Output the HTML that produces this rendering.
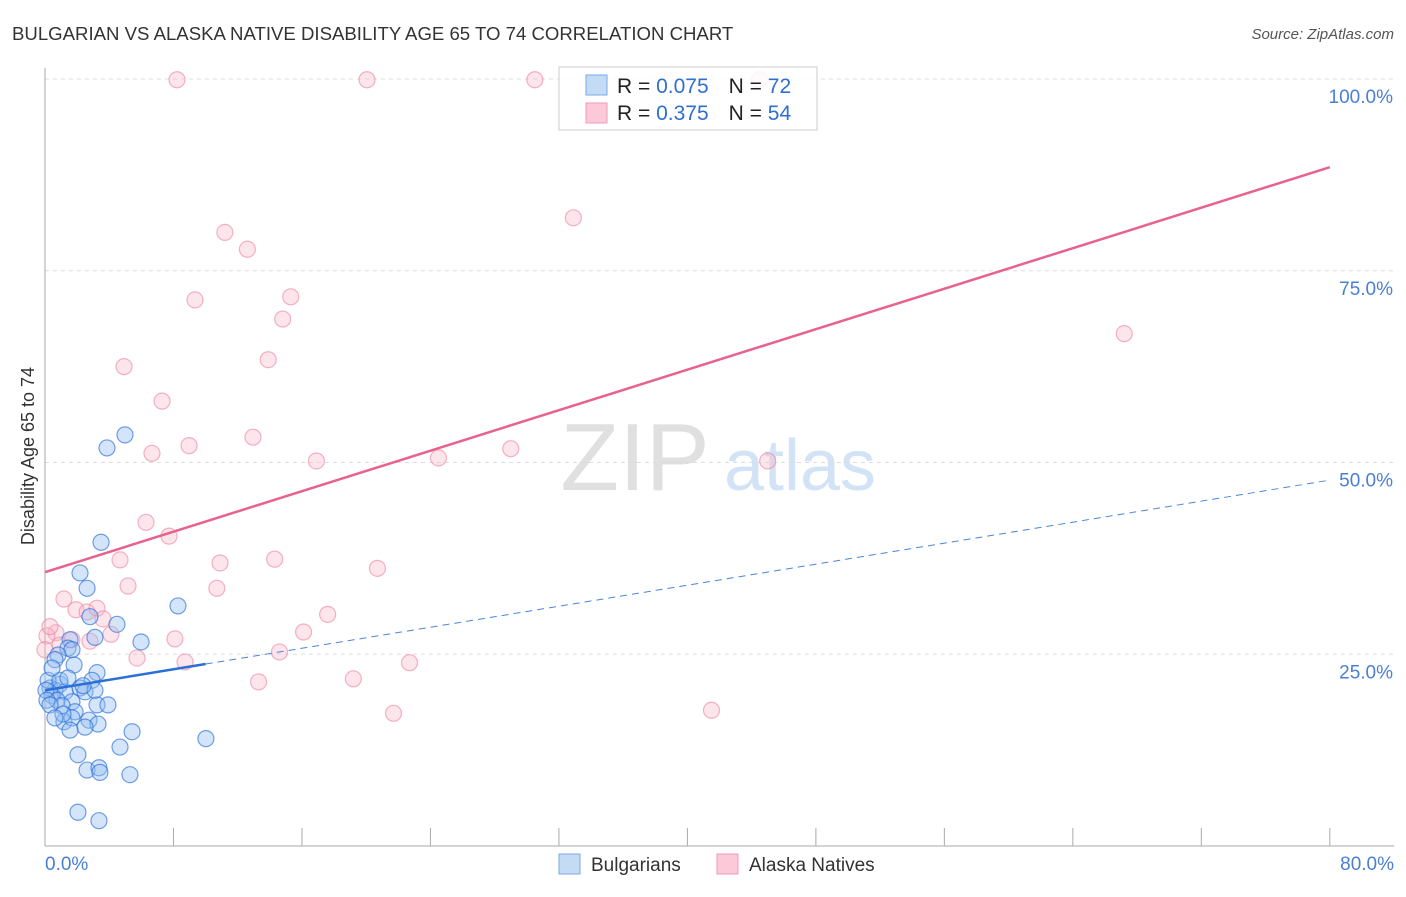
<!DOCTYPE html>
<html><head><meta charset="utf-8"><style>
body{margin:0;background:#fff;font-family:"Liberation Sans",sans-serif;}
svg text{font-family:"Liberation Sans",sans-serif;}
</style></head><body>
<svg id="c" width="1406" height="892">
<text x="12" y="40" font-size="18.6" fill="#333">BULGARIAN VS ALASKA NATIVE DISABILITY AGE 65 TO 74 CORRELATION CHART</text>
<text x="1394" y="39" font-size="15" fill="#555" font-style="italic" text-anchor="end">Source: ZipAtlas.com</text>
<text x="34" y="456" font-size="18" fill="#333" text-anchor="middle" transform="rotate(-90 34 456)">Disability Age 65 to 74</text>
<g><text x="635" y="490" font-size="96" fill="#e0e0e0" font-family="Liberation Serif" text-anchor="middle">ZIP</text><text x="800" y="490" font-size="72" fill="#d3e3f6" text-anchor="middle">atlas</text></g>
<g id="grid"></g><g id="axes"></g><g id="pts"></g><g id="lines"></g>
<g>
<rect x="559" y="67" width="258" height="63" fill="rgba(255,255,255,0.85)" stroke="#ccc"/>
<rect x="586" y="75" width="21" height="20" fill="#c4dbf6" stroke="#7aaae8"/>
<rect x="586" y="103" width="21" height="20" fill="#fbc9d7" stroke="#f09ab4"/>
<text x="617" y="93" font-size="21" fill="#222">R = <tspan fill="#2f6fd0">0.075</tspan><tspan dx="20">N = </tspan><tspan fill="#2f6fd0">72</tspan></text>
<text x="617" y="120" font-size="21" fill="#222">R = <tspan fill="#2f6fd0"> 0.375</tspan><tspan dx="20">N = </tspan><tspan fill="#2f6fd0">54</tspan></text>
</g>
<g>
<rect x="559" y="854" width="21" height="20" fill="#c4dbf6" stroke="#7aaae8"/>
<text x="591" y="871" font-size="19" fill="#333">Bulgarians</text>
<rect x="717" y="854" width="21" height="20" fill="#fbc9d7" stroke="#f09ab4"/>
<text x="749" y="871" font-size="19" fill="#333">Alaska Natives</text>
</g>
</svg>
<script>
const blueX=[4.98,3.86,3.49,2.18,2.62,8.28,2.80,4.48,3.11,5.98,1.56,1.43,1.68,0.81,0.62,1.81,3.24,2.93,0.93,0.31,0.62,2.18,2.49,1.25,0.44,0.75,1.68,1.06,3.24,3.92,1.87,2.74,1.18,1.68,3.30,2.49,1.56,10.02,5.42,4.67,2.05,2.62,3.36,3.42,5.29,2.05,3.36,0.19,0.06,0.12,0.31,0.93,1.43,0.44,3.11,2.37,1.12,0.62];
const blueY=[53.6,51.9,39.6,35.6,33.6,31.3,29.9,28.9,27.2,26.6,26.9,25.8,25.6,24.9,24.3,23.6,22.6,21.6,21.1,20.6,20.3,20.6,20.1,20.1,19.6,19.0,18.8,18.3,18.4,18.4,17.5,16.4,16.2,16.7,15.9,15.5,15.1,14.0,14.9,12.9,11.9,9.9,10.2,9.6,9.3,4.4,3.3,21.6,20.3,19.0,18.4,21.6,21.9,23.2,20.3,20.9,17.2,16.7];
const pinkX=[8.22,20.05,30.5,44.5,32.9,11.2,12.6,9.34,15.3,14.8,4.92,13.9,7.29,12.95,8.97,6.66,16.9,24.5,29.0,45.0,67.2,6.29,7.72,4.67,10.9,14.3,20.7,5.17,10.7,1.18,1.93,2.62,3.24,3.61,17.6,16.1,4.11,8.09,0.68,0.12,0.93,2.80,5.73,8.72,14.6,22.7,13.3,19.2,21.7,41.5,0.31,0,1.68];
const pinkY=[99.9,99.9,99.9,99.9,81.9,80.0,77.8,71.2,71.6,68.7,62.5,63.4,58.0,53.3,52.2,51.2,50.2,50.6,51.8,50.2,66.8,42.2,40.4,37.3,36.9,37.4,36.2,33.9,33.6,32.2,30.8,30.5,31.0,29.6,30.2,27.9,27.6,27.0,27.8,27.4,26.2,26.7,24.5,24.0,25.3,23.9,21.4,21.8,17.3,17.7,28.6,25.6,26.9];
const yTicks=[25,50,75,100];
const xTicks=[0,8,16,24,32,40,48,56,64,72,80];
const pinkTrend=[35.7,88.5];
const blueTrend=[20.3,47.7];
const blueSolidEnd=10;
const X=v=>45+v*16.06, Y=v=>846-v*7.67;
const NS="http://www.w3.org/2000/svg";
function mk(t,a,p){const e=document.createElementNS(NS,t);for(const k in a)e.setAttribute(k,a[k]);p.appendChild(e);return e;}
const grid=document.getElementById('grid'),axes=document.getElementById('axes'),pts=document.getElementById('pts'),lines=document.getElementById('lines');
yTicks.forEach(t=>{const l=mk('line',{x1:45,x2:1394,y1:Y(t),y2:Y(t),stroke:'#ddd','stroke-dasharray':'4,4'},grid);


const tx=mk('text',{x:1393,y:Y(t)+24,'font-size':19,fill:'#4a7fd4','text-anchor':'end'},axes);tx.textContent=t.toFixed(1)+'%';

});
mk('line',{x1:45,x2:45,y1:68,y2:846,stroke:'#aaa'},axes);
mk('line',{x1:45,x2:1394,y1:846,y2:846,stroke:'#aaa'},axes);
xTicks.forEach(t=>{const l=mk('line',{x1:X(t),x2:X(t),y1:828,y2:846,stroke:'#aaa'},axes);

});
[[0,'start',45],[80,'end',1394]].forEach(([v,a,x])=>{const tx=mk('text',{x:x,y:870,'font-size':19,fill:'#4a7fd4','text-anchor':a},axes);tx.textContent=v.toFixed(1)+'%';

});
pinkX.forEach((v,i)=>{const c=mk('circle',{cx:X(v),cy:Y(pinkY[i]),r:8,fill:'rgba(248,180,200,0.35)',stroke:'rgba(235,130,160,0.6)','stroke-width':1.2},pts);

});
blueX.forEach((v,i)=>{const c=mk('circle',{cx:X(v),cy:Y(blueY[i]),r:8,fill:'rgba(150,190,240,0.4)',stroke:'rgba(40,110,220,0.65)','stroke-width':1.2},pts);

});
const bAt=v=>blueTrend[0]+(blueTrend[1]-blueTrend[0])*v/80;
let l1=mk('line',{x1:X(0),y1:Y(pinkTrend[0]),x2:X(80),y2:Y(pinkTrend[1]),stroke:'#e8628f','stroke-width':2.5},lines);


let l2=mk('line',{x1:X(blueSolidEnd),y1:Y(bAt(blueSolidEnd)),x2:X(80),y2:Y(bAt(80)),stroke:'#4a86d8','stroke-width':1,'stroke-dasharray':'7,5'},lines);


let l3=mk('line',{x1:X(0),y1:Y(bAt(0)),x2:X(blueSolidEnd),y2:Y(bAt(blueSolidEnd)),stroke:'#2a6fd8','stroke-width':2.5},lines);


</script>
</body></html>
